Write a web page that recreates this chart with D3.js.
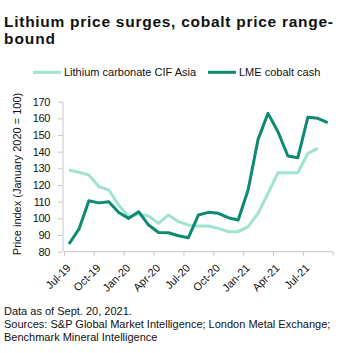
<!DOCTYPE html>
<html><head><meta charset="utf-8">
<script src="https://cdn.jsdelivr.net/npm/d3@7"></script>
<style>
body{margin:0;background:#fff;}
svg{display:block;}
</style></head>
<body>
<svg id="chart" width="350" height="353"></svg>
<script>
const months = ["Jul-19","Aug-19","Sep-19","Oct-19","Nov-19","Dec-19","Jan-20","Feb-20","Mar-20","Apr-20","May-20","Jun-20","Jul-20","Aug-20","Sep-20","Oct-20","Nov-20","Dec-20","Jan-21","Feb-21","Mar-21","Apr-21","May-21","Jun-21","Jul-21","Aug-21","Sep-21"];
const lithium = [129,127.7,126,119,117,108,101,102.6,101.4,97,102,98,96,95.4,95.4,94,92,92,95,103,115,127.4,127.4,127.4,139,142,null];
const cobalt = [84.6,93.5,110.6,109.3,110,103.5,100,104,96,91.5,91.4,89.6,88.4,102,103.6,103,100.4,99,117,147.4,163,152,137.4,136.4,160.6,160,157.4];
const tickLabels = ["Jul-19","Oct-19","Jan-20","Apr-20","Jul-20","Oct-20","Jan-21","Apr-21","Jul-21"];
const yTicks = [80,90,100,110,120,130,140,150,160,170];
const seriesNames = ["Lithium carbonate CIF Asia","LME cobalt cash"];
const colors = ["#9fe3d3","#0e8a72"];

const svg = d3.select("#chart");
const FONT = "'Liberation Sans', Arial, sans-serif";

// Title
const title = svg.append("text").attr("font-family",FONT).attr("font-weight","bold")
  .attr("font-size",15.5).attr("fill","#111");
title.append("tspan").attr("x",4).attr("y",26.5).attr("textLength",329).attr("lengthAdjust","spacing")
  .text("Lithium price surges, cobalt price range-");
title.append("tspan").attr("x",4).attr("y",44).attr("textLength",51).attr("lengthAdjust","spacing")
  .text("bound");

// Legend
const legend = [{x:33,tx:64},{x:208,tx:239}];
seriesNames.forEach((n,i)=>{
  svg.append("line").attr("x1",legend[i].x).attr("x2",legend[i].x+28)
    .attr("y1",72.3).attr("y2",72.3).attr("stroke",colors[i]).attr("stroke-width",3);
  svg.append("text").attr("x",legend[i].tx).attr("y",76.3).attr("font-family",FONT)
    .attr("font-size",11).attr("fill","#111").text(n);
});

// Scales
const x = d3.scaleLinear().domain([0, months.length]).range([64, 332.7]);
const y = d3.scaleLinear().domain([80,170]).range([251.7,101.7]);

// Y axis
const yAxis = svg.append("g").attr("transform","translate(63,0)")
  .call(d3.axisLeft(y).tickValues(yTicks).tickSize(5).tickPadding(8));
yAxis.select(".domain").attr("stroke","#c8c8c8").attr("d",`M0,${y(170)}V${y(80)}`);
yAxis.selectAll(".tick line").attr("stroke","#c8c8c8");
yAxis.selectAll(".tick text").attr("font-family",FONT).attr("font-size",11).attr("letter-spacing",-0.4).attr("fill","#111");

// X axis
const xTickVals = d3.range(0, months.length+1, 3);
const xAxis = svg.append("g").attr("transform",`translate(0,${y(80)})`)
  .call(d3.axisBottom(x).tickValues(xTickVals).tickSize(4)
    .tickFormat((d,i)=> i < tickLabels.length ? tickLabels[i] : ""));
xAxis.select(".domain").attr("stroke","#c8c8c8").attr("d",`M${x(0)},0H${x(months.length)}`);
xAxis.selectAll(".tick line").attr("stroke","#c8c8c8");
xAxis.selectAll(".tick text").attr("font-family",FONT).attr("font-size",11).attr("fill","#111")
  .attr("text-anchor","end").attr("dx",0).attr("dy",0)
  .attr("transform","translate(2,12) rotate(-45)");

// Y label
svg.append("text").attr("transform",`translate(21,174) rotate(-90)`)
  .attr("text-anchor","middle").attr("font-family",FONT).attr("font-size",11).attr("fill","#111")
  .text("Price index (January 2020 = 100)");

// Lines
const line = d3.line().defined(d=>d!=null).x((d,i)=>x(i+0.5)).y(d=>y(d));
[lithium, cobalt].forEach((s,i)=>{
  svg.append("path").datum(s).attr("d",line).attr("fill","none")
    .attr("stroke",colors[i]).attr("stroke-width",3).attr("stroke-linejoin","round");
});

// Footnote
const notes = ["Data as of Sept. 20, 2021.","Sources: S&P Global Market Intelligence; London Metal Exchange;","Benchmark Mineral Intelligence"];
notes.forEach((t,i)=>{
  svg.append("text").attr("x",4).attr("y",314.5 + i*13.3).attr("font-family",FONT)
    .attr("font-size",11).attr("fill","#111").text(t);
});
</script>
</body></html>
